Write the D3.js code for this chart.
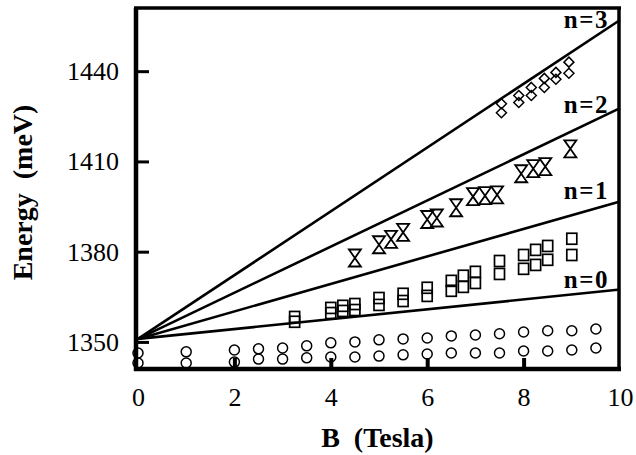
<!DOCTYPE html>
<html>
<head>
<meta charset="utf-8">
<script src="https://cdn.jsdelivr.net/npm/d3@7"></script>
<style>
  body { margin:0; background:#fff; }
  #canvas { width:636px; height:455px; }
  .axis text { font-family:"Liberation Serif","Times New Roman","DejaVu Serif",serif; font-size:26px; fill:#000; }
  .title { font-family:"Liberation Serif","Times New Roman","DejaVu Serif",serif; font-weight:bold; font-size:28px; }
  .nlabel { font-family:"Liberation Serif","Times New Roman","DejaVu Serif",serif; font-weight:bold; font-size:25px; letter-spacing:1.5px; }
</style>
</head>
<body>
<div id="canvas" class="canvas"></div>
<script>
// tick labels
var xTicks = [0,2,4,6,8,10],
    yTicks = [1350,1380,1410,1440];

// fitted Landau lines n=0..3 : energy at B=0 and at B=10
var levelNames = ['n=0','n=1','n=2','n=3'],
    levelStart = [1351,1351,1351,1351],
    levelEnd = [1367.4,1396.7,1427.7,1457];

// circles (two rows)
var circB = [0,1,2,2.5,3,3.5,4,4.5,5,5.5,6,6.5,7,7.5,8,8.5,9,9.5],
    circUpper = [1346.3,1346.7,1347.3,1347.7,1348.0,1348.7,1349.7,1350.0,1350.7,1351.0,1351.3,1352.0,1352.3,1352.7,1353.3,1353.7,1353.7,1354.3],
    circLower = [1343.0,1343.0,1343.3,1344.3,1344.3,1344.7,1345.0,1345.0,1345.3,1345.7,1346.0,1346.3,1346.3,1346.3,1347.0,1347.0,1347.3,1348.0];

// squares (pairs)
var sqB = [3.25,4.0,4.25,4.5,5.0,5.5,6.0,6.5,6.75,7.0,7.5,8.0,8.25,8.5,9.0],
    sqUpper = [1358.3,1361.3,1362.0,1362.6,1364.6,1366.0,1368.0,1370.3,1372.0,1373.3,1376.9,1378.9,1380.6,1381.9,1384.3],
    sqLower = [1356.7,1359.6,1360.3,1360.6,1362.3,1363.6,1365.3,1367.0,1368.3,1369.6,1372.6,1374.3,1375.6,1377.3,1378.9];

// hourglasses
var hgB = [4.5,5.0,5.25,5.5,6.0,6.2,6.6,6.95,7.2,7.45,7.95,8.2,8.45,8.97],
    hgE = [1377.9,1382.3,1384.1,1386.4,1390.7,1391.2,1394.6,1398.3,1398.6,1398.9,1405.9,1407.6,1408.3,1414.2];

// diamonds (two rows)
var dmB = [7.54,7.9,8.16,8.43,8.67,8.94],
    dmUpper = [1429.2,1431.9,1434.6,1437.6,1439.6,1443.0],
    dmLower = [1426.2,1429.6,1431.9,1434.6,1437.3,1439.3];

var m = {t:8,r:16,b:86,l:138};
var outerWidth = 636, outerHeight = 455;
var w = outerWidth - m.l - m.r,
    h = outerHeight - m.t - m.b;

var svg = d3.select('.canvas')
    .append('svg')
    .attr('width',outerWidth)
    .attr('height',outerHeight);
var plot = svg.append('g')
    .attr('transform','translate(' + m.l + ',' + m.t + ')');

var scaleX = d3.scaleLinear().domain([0,10]).range([0,w]),
    scaleY = d3.scaleLinear().domain([1341,1461]).range([h,0]);

// axes
var axisY = d3.axisLeft(scaleY)
    .tickValues(yTicks)
    .tickFormat(d3.format('d'))
    .tickSizeInner(-11)
    .tickSizeOuter(0)
    .tickPadding(19);
var gy = plot.append('g').attr('class','axis axis-y').call(axisY);
gy.attr('font-family',null).attr('font-size',null);
gy.select('.domain').remove();
gy.selectAll('.tick line').attr('stroke','#000').attr('stroke-width',3);

var axisX = d3.axisBottom(scaleX)
    .tickValues(xTicks)
    .tickFormat(d3.format('d'))
    .tickSizeInner(-11)
    .tickSizeOuter(0)
    .tickPadding(19);
var gx = plot.append('g').attr('class','axis axis-x')
    .attr('transform','translate(0,' + h + ')')
    .call(axisX);
gx.attr('font-family',null).attr('font-size',null);
gx.select('.domain').remove();
gx.selectAll('.tick line')
    .attr('stroke','#000')
    .attr('stroke-width',4)
    .style('display',function(d){ return (d===0||d===10) ? 'none' : null; });

// frame
plot.append('line').attr('x1',-2).attr('x2',-2).attr('y1',0).attr('y2',h+2)
    .attr('stroke','#000').attr('stroke-width',4.5);
plot.append('line').attr('x1',-4).attr('x2',w+1).attr('y1',h).attr('y2',h)
    .attr('stroke','#000').attr('stroke-width',4.5);
plot.append('line').attr('x1',-4).attr('x2',w+1).attr('y1',0).attr('y2',0)
    .attr('stroke','#000').attr('stroke-width',3.5);
plot.append('line').attr('x1',w-1).attr('x2',w-1).attr('y1',-1).attr('y2',h+2)
    .attr('stroke','#000').attr('stroke-width',3.5);

// level lines
levelNames.forEach(function(name,i){
    plot.append('line')
        .attr('x1',scaleX(0)).attr('y1',scaleY(levelStart[i]))
        .attr('x2',scaleX(10)).attr('y2',scaleY(levelEnd[i]))
        .attr('stroke','#000').attr('stroke-width',2.6);
});
var labelDy = [-2,-2,5,8];
levelNames.forEach(function(name,i){
    plot.append('text')
        .attr('class','nlabel')
        .attr('x',scaleX(10) - 11)
        .attr('y',scaleY(levelEnd[i]) + labelDy[i])
        .attr('text-anchor','end')
        .text(name);
});

// markers
var markers = plot.append('g').attr('fill','none').attr('stroke','#000');

circB.forEach(function(b,i){
    [circUpper[i],circLower[i]].forEach(function(e){
        markers.append('circle')
            .attr('cx',scaleX(b)).attr('cy',scaleY(e))
            .attr('r',5).attr('stroke-width',1.5);
    });
});

sqB.forEach(function(b,i){
    [sqUpper[i],sqLower[i]].forEach(function(e){
        markers.append('rect')
            .attr('x',scaleX(b)-5).attr('y',scaleY(e)-5.5)
            .attr('width',10).attr('height',11)
            .attr('stroke-width',1.7);
    });
});

hgB.forEach(function(b,i){
    var cx = scaleX(b), cy = scaleY(hgE[i]);
    markers.append('path')
        .attr('d','M' + (cx-6) + ',' + (cy-8.5) + 'L' + (cx+6) + ',' + (cy-8.5) +
                  'L' + (cx-6) + ',' + (cy+8.5) + 'L' + (cx+6) + ',' + (cy+8.5) + 'Z')
        .attr('stroke-width',1.8);
});

dmB.forEach(function(b,i){
    [dmUpper[i],dmLower[i]].forEach(function(e){
        var cx = scaleX(b), cy = scaleY(e);
        markers.append('path')
            .attr('d','M' + cx + ',' + (cy-5) + 'L' + (cx+5) + ',' + cy +
                      'L' + cx + ',' + (cy+5) + 'L' + (cx-5) + ',' + cy + 'Z')
            .attr('stroke-width',1.5);
    });
});

// axis titles
svg.append('text')
    .attr('class','title')
    .attr('x',m.l + scaleX(3.8))
    .attr('y',447)
    .text('B\u00a0\u00a0(Tesla)');

svg.append('text')
    .attr('class','title')
    .attr('transform','translate(32,' + (m.t + h / 2 + 4) + ') rotate(-90)')
    .attr('text-anchor','middle')
    .text('Energy\u00a0 (meV)');
</script>
</body>
</html>
